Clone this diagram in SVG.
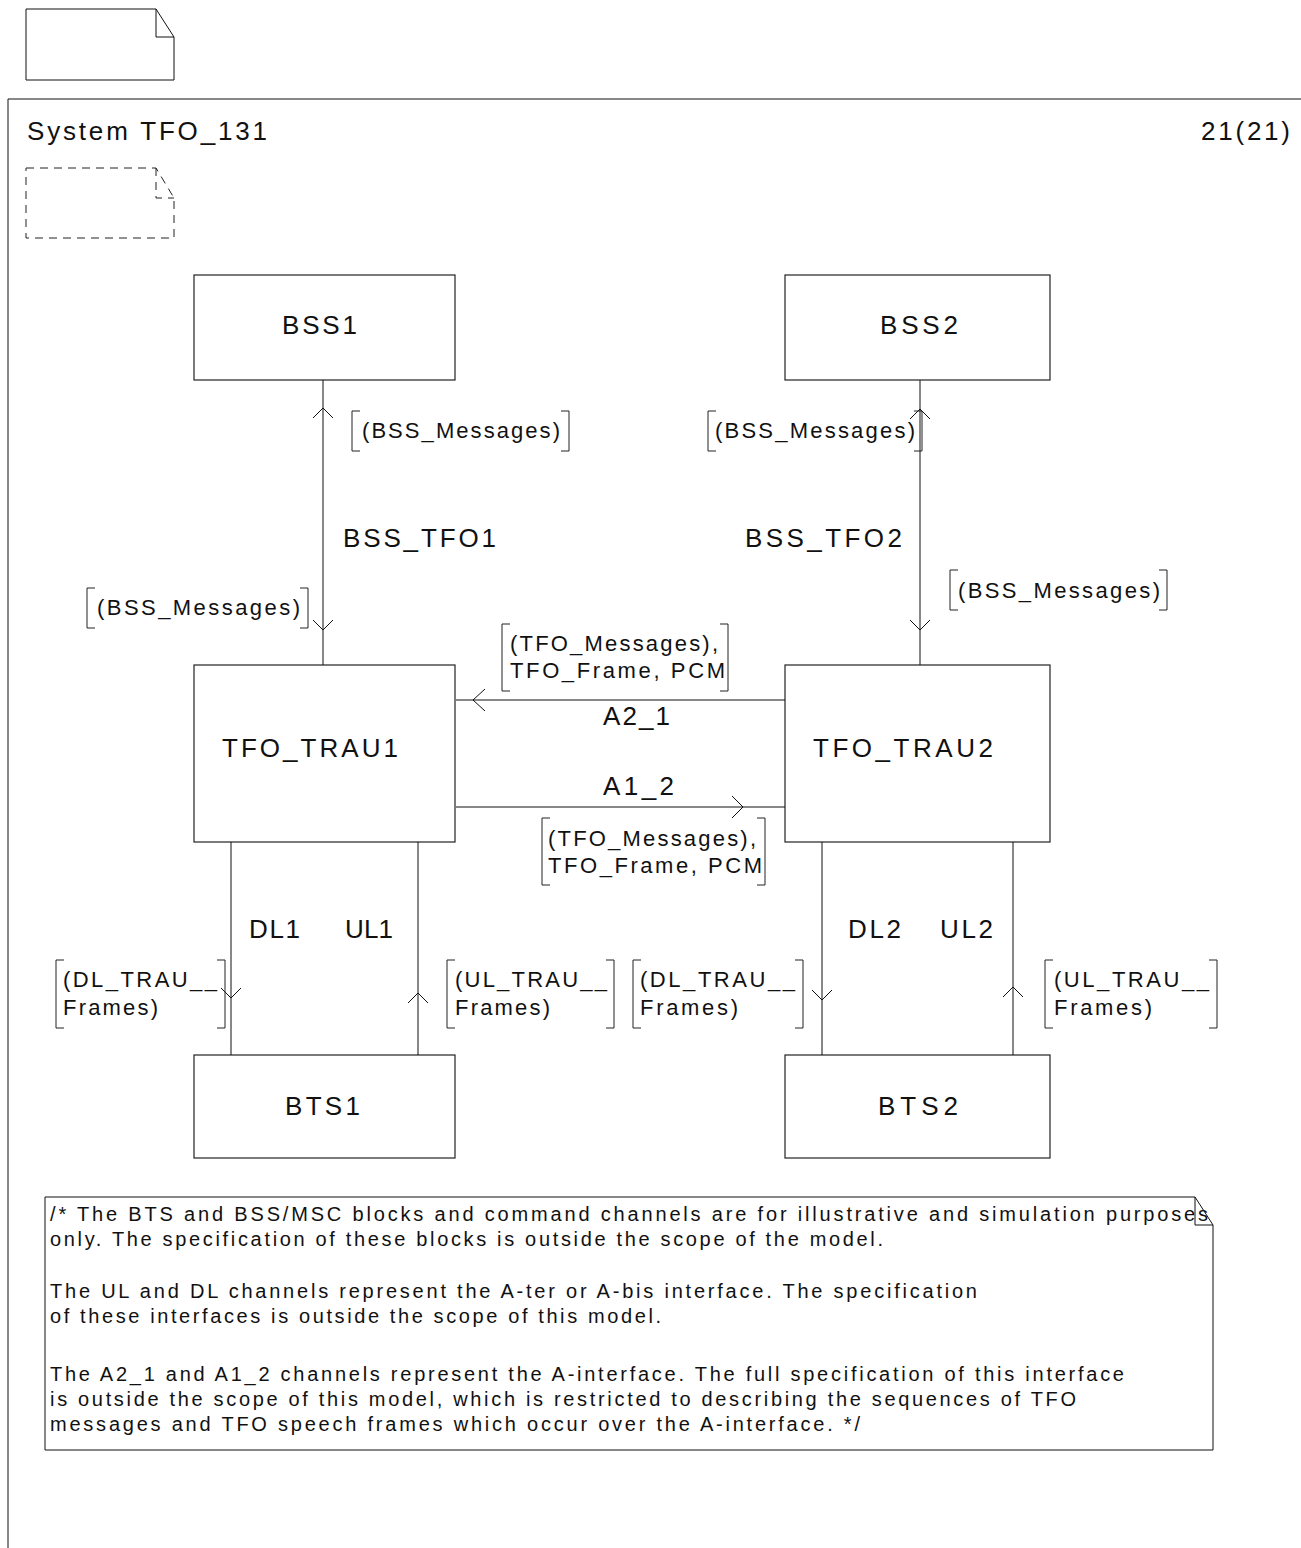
<svg xmlns="http://www.w3.org/2000/svg" width="1301" height="1548" viewBox="0 0 1301 1548">
<style>
.box{fill:#fff;stroke:#222;stroke-width:1.2}
.ln{fill:none;stroke:#111;stroke-width:1}
.ah{fill:none;stroke:#111;stroke-width:1}
.br{fill:none;stroke:#222;stroke-width:1}
text{font-family:"Liberation Sans",Arial,sans-serif;fill:#111}
.t24{font-size:26px}
.t20{font-size:22px}
.t18{font-size:20px}
.dash{fill:none;stroke:#222;stroke-width:1;stroke-dasharray:8 6}
</style>
<rect width="1301" height="1548" fill="#fff"/>
<g id="page-symbol">
<path class="ln" d="M26 9 H156 L174 37 V80 H26 Z"/>
<path class="ln" d="M156 9 V37 H174"/>
</g>
<g id="frame">
<path class="ln" d="M1301 99 H8 V1548"/>
<text class="t24" x="27" y="140" textLength="240" lengthAdjust="spacing">System TFO_131</text>
<text class="t24" x="1201" y="140" textLength="89" lengthAdjust="spacing">21(21)</text>
</g>
<g id="ref-symbol">
<path class="dash" d="M26 168 H156 L174 198 V238 H26 Z"/>
<path class="dash" d="M156 168 V198 H174"/>
</g>
<g id="BSS1"><rect class="box" x="194" y="275" width="261" height="105"/><text class="t24" x="282" y="334" textLength="75" lengthAdjust="spacing">BSS1</text></g>
<g id="BSS2"><rect class="box" x="785" y="275" width="265" height="105"/><text class="t24" x="880" y="334" textLength="78" lengthAdjust="spacing">BSS2</text></g>
<g id="TFO_TRAU1"><rect class="box" x="194" y="665" width="261" height="177"/><text class="t24" x="222" y="757" textLength="176" lengthAdjust="spacing">TFO_TRAU1</text></g>
<g id="TFO_TRAU2"><rect class="box" x="785" y="665" width="265" height="177"/><text class="t24" x="813" y="757" textLength="180" lengthAdjust="spacing">TFO_TRAU2</text></g>
<g id="BTS1"><rect class="box" x="194" y="1055" width="261" height="103"/><text class="t24" x="285" y="1115" textLength="75" lengthAdjust="spacing">BTS1</text></g>
<g id="BTS2"><rect class="box" x="785" y="1055" width="265" height="103"/><text class="t24" x="878" y="1115" textLength="80" lengthAdjust="spacing">BTS2</text></g>
<g id="connectors">
<path class="ln" d="M323 380 V665"/>
<path class="ah" d="M313 418 L323 408 L333 418"/>
<path class="ah" d="M313 620 L323 630 L333 620"/>
<path class="ln" d="M920 380 V665"/>
<path class="ah" d="M910 419 L920 409 L930 419"/>
<path class="ah" d="M910 620 L920 630 L930 620"/>
<path class="ln" d="M456 700 H785"/>
<path class="ah" d="M485 689 L473 700 L485 711"/>
<path class="ln" d="M456 807 H785"/>
<path class="ah" d="M732 796 L743 807 L732 818"/>
<path class="ln" d="M231 842 V1055"/>
<path class="ah" d="M221 988 L231 998 L241 988"/>
<path class="ln" d="M418 842 V1055"/>
<path class="ah" d="M408 1003 L418 993 L428 1003"/>
<path class="ln" d="M822 842 V1055"/>
<path class="ah" d="M812 990 L822 1000 L832 990"/>
<path class="ln" d="M1013 842 V1055"/>
<path class="ah" d="M1003 997 L1013 987 L1023 997"/>
<text class="t24" x="343" y="547" textLength="153" lengthAdjust="spacing">BSS_TFO1</text>
<text class="t24" x="745" y="547" textLength="157" lengthAdjust="spacing">BSS_TFO2</text>
<text class="t24" x="603" y="725" textLength="67" lengthAdjust="spacing">A2_1</text>
<text class="t24" x="603" y="795" textLength="71" lengthAdjust="spacing">A1_2</text>
<text class="t24" x="249" y="938" textLength="51" lengthAdjust="spacing">DL1</text>
<text class="t24" x="345" y="938" textLength="48" lengthAdjust="spacing">UL1</text>
<text class="t24" x="848" y="938" textLength="53" lengthAdjust="spacing">DL2</text>
<text class="t24" x="940" y="938" textLength="53" lengthAdjust="spacing">UL2</text>
<path class="br" d="M360 411 H352 V451 H360 M561 411 H569 V451 H561"/>
<text class="t20" x="362" y="438" textLength="198" lengthAdjust="spacing">(BSS_Messages)</text>
<path class="br" d="M95 588 H87 V628 H95 M300 588 H308 V628 H300"/>
<text class="t20" x="97" y="615" textLength="203" lengthAdjust="spacing">(BSS_Messages)</text>
<path class="br" d="M716 411 H708 V451 H716 M914 411 H922 V451 H914"/>
<text class="t20" x="715" y="438" textLength="200" lengthAdjust="spacing">(BSS_Messages)</text>
<path class="br" d="M958 570 H950 V610 H958 M1159 570 H1167 V610 H1159"/>
<text class="t20" x="958" y="598" textLength="202" lengthAdjust="spacing">(BSS_Messages)</text>
<path class="br" d="M510 624 H502 V691 H510 M720 624 H728 V691 H720"/>
<text class="t20" x="510" y="651" textLength="208" lengthAdjust="spacing">(TFO_Messages),</text>
<text class="t20" x="510" y="678" textLength="215" lengthAdjust="spacing">TFO_Frame, PCM</text>
<path class="br" d="M550 818 H542 V885 H550 M757 818 H765 V885 H757"/>
<text class="t20" x="548" y="846" textLength="208" lengthAdjust="spacing">(TFO_Messages),</text>
<text class="t20" x="548" y="873" textLength="214" lengthAdjust="spacing">TFO_Frame, PCM</text>
<path class="br" d="M64 960 H56 V1028 H64 M217 960 H225 V1028 H217"/>
<text class="t20" x="63" y="987" textLength="154" lengthAdjust="spacing">(DL_TRAU__</text>
<text class="t20" x="63" y="1015" textLength="95" lengthAdjust="spacing">Frames)</text>
<path class="br" d="M455 960 H447 V1028 H455 M606 960 H614 V1028 H606"/>
<text class="t20" x="455" y="987" textLength="152" lengthAdjust="spacing">(UL_TRAU__</text>
<text class="t20" x="455" y="1015" textLength="95" lengthAdjust="spacing">Frames)</text>
<path class="br" d="M641 960 H633 V1028 H641 M795 960 H803 V1028 H795"/>
<text class="t20" x="640" y="987" textLength="155" lengthAdjust="spacing">(DL_TRAU__</text>
<text class="t20" x="640" y="1015" textLength="98" lengthAdjust="spacing">Frames)</text>
<path class="br" d="M1053 960 H1045 V1028 H1053 M1209 960 H1217 V1028 H1209"/>
<text class="t20" x="1054" y="987" textLength="155" lengthAdjust="spacing">(UL_TRAU__</text>
<text class="t20" x="1054" y="1015" textLength="98" lengthAdjust="spacing">Frames)</text>
</g>
<g id="comment">
<path class="ln" d="M45 1197 H1195 L1213 1225 V1450 H45 Z"/>
<path class="ln" d="M1195 1197 V1225 H1213"/>
<text class="t18" x="50" y="1221" textLength="1158" lengthAdjust="spacing">/* The BTS and BSS/MSC blocks and command channels are for illustrative and simulation purposes</text>
<text class="t18" x="50" y="1246" textLength="833" lengthAdjust="spacing">only. The specification of these blocks is outside the scope of the model.</text>
<text class="t18" x="50" y="1298" textLength="927" lengthAdjust="spacing">The UL and DL channels represent the A-ter or A-bis interface. The specification</text>
<text class="t18" x="50" y="1323" textLength="611" lengthAdjust="spacing">of these interfaces is outside the scope of this model.</text>
<text class="t18" x="50" y="1381" textLength="1074" lengthAdjust="spacing">The A2_1 and A1_2 channels represent the A-interface. The full specification of this interface</text>
<text class="t18" x="50" y="1406" textLength="1026" lengthAdjust="spacing">is outside the scope of this model, which is restricted to describing the sequences of TFO</text>
<text class="t18" x="50" y="1431" textLength="810" lengthAdjust="spacing">messages and TFO speech frames which occur over the A-interface. */</text>
</g>
</svg>
